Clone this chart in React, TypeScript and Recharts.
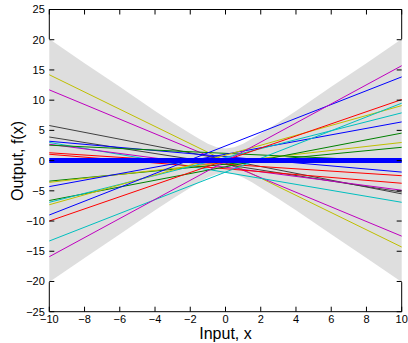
import { Area, ComposedChart, Line, ReferenceLine, XAxis, YAxis } from "recharts";

// x positions where the grey 2-sigma band was read
const bandX = [-10, -8, -6, -4, -3, -2, -1.5, -1, -0.5, 0, 0.5, 1, 1.5, 2, 3, 4, 6, 8, 10];
const bandUpper = [20.1, 16.1, 12.2, 8.2, 6.3, 4.5, 3.6, 2.8, 2.2, 2.0, 2.2, 2.8, 3.6, 4.5, 6.3, 8.2, 12.2, 16.1, 20.1];
const bandLower = [-20.1, -16.1, -12.2, -8.2, -6.3, -4.5, -3.6, -2.8, -2.2, -2.0, -2.2, -2.8, -3.6, -4.5, -6.3, -8.2, -12.2, -16.1, -20.1];

// sample lines: value at x = -10 and at x = 10
const sampleColors = [
  "#bfbf00", "#bf00bf", "#404040", "#404040", "#0000ff",
  "#00bfbf", "#bf00bf", "#008000", "#ff0000", "#ff0000",
  "#008000", "#bfbf00", "#0000ff", "#008000", "#00bfbf",
  "#bfbf00", "#0000ff", "#ff0000", "#00bfbf", "#bf00bf",
];
const sampleStart = [14.2, 11.7, 5.8, 3.9, 3.2, 3.0, 2.7, 2.55, 1.3, 1.05, -3.4, -3.6, -4.3, -6.6, -6.9, -7.3, -9.0, -10.0, -13.3, -15.9];
const sampleEnd = [-14.3, -12.5, -5.5, -5.2, -1.9, -6.9, -4.9, -0.15, -2.5, -3.75, 2.2, 3.0, 6.4, 4.55, 7.9, 9.1, 13.85, 10.1, 9.5, 15.7];

// prior mean
const meanStart = 0;
const meanEnd = 0;

const xTicks = [-10, -8, -6, -4, -2, 0, 2, 4, 6, 8, 10];
const yTicks = [-25, -20, -15, -10, -5, 0, 5, 10, 15, 20, 25];

const data = bandX.map((x, i) => {
  const row: any = { x, band: [bandLower[i], bandUpper[i]] };
  if (x === -10 || x === 10) {
    sampleStart.forEach((v, j) => {
      row[`l${j}`] = x === -10 ? v : sampleEnd[j];
    });
    row.mean = x === -10 ? meanStart : meanEnd;
  }
  return row;
});

const font = "'Liberation Sans', Arial, sans-serif";
const fmt = (v: number) => (v < 0 ? "\u2212" + Math.abs(v) : String(v));
const noLabel = () => <g />;

// side frame edges, only where the grey band does not cover them
const edge = (x: number, y1: number, y2: number) => (
  <ReferenceLine
    xAxisId="b"
    yAxisId="l"
    segment={[{ x, y: y1 }, { x, y: y2 }]}
    stroke="#000"
    strokeWidth={1}
  />
);

export default function App() {
  const bandEdgeL = bandUpper[0];
  const bandEdgeR = bandUpper[bandUpper.length - 1];
  return (
    <div style={{ position: "absolute", left: 0, top: 0, width: 408, height: 343, background: "#fff" }}>
      <ComposedChart
        width={408}
        height={343}
        data={data}
        margin={{ top: 8.5, right: 5.3, bottom: 0, left: 0 }}
      >
        <XAxis
          xAxisId="b"
          dataKey="x"
          type="number"
          domain={[-10, 10]}
          ticks={xTicks}
          tickFormatter={fmt}
          height={31.3}
          tickSize={-5}
          tickMargin={8.5}
          stroke="#000"
          tick={{ fill: "#000", fontSize: 11, fontFamily: font }}
          label={{
            content: () => (
              <text x={225.5} y={339} textAnchor="middle" fontSize={16} fontFamily={font} fill="#000">
                Input, x
              </text>
            ),
          }}
        />
        <XAxis
          xAxisId="t"
          dataKey="x"
          type="number"
          orientation="top"
          domain={[-10, 10]}
          ticks={xTicks}
          height={1}
          tickSize={-5}
          tick={noLabel}
          stroke="#000"
        />
        <YAxis
          yAxisId="l"
          type="number"
          domain={[-25, 25]}
          ticks={yTicks}
          tickFormatter={fmt}
          width={49.3}
          tickSize={-5}
          tickMargin={9.5}
          axisLine={false}
          stroke="#000"
          tick={{ fill: "#000", fontSize: 11, fontFamily: font }}
          label={{
            content: () => (
              <text
                x={17}
                y={161}
                transform="rotate(-90 17 161)"
                textAnchor="middle"
                dominantBaseline="central"
                fontSize={16}
                fontFamily={font}
                fill="#000"
              >
                Output, f(x)
              </text>
            ),
          }}
        />
        <YAxis
          yAxisId="r"
          orientation="right"
          type="number"
          domain={[-25, 25]}
          ticks={yTicks}
          width={1}
          tickSize={-5}
          axisLine={false}
          tick={noLabel}
          stroke="#000"
        />
        <Area
          xAxisId="b"
          yAxisId="l"
          dataKey="band"
          type="linear"
          fill="#dedede"
          fillOpacity={1}
          stroke="none"
          isAnimationActive={false}
        />
        <Line
          xAxisId="t"
          yAxisId="r"
          dataKey="mean"
          stroke="none"
          dot={false}
          connectNulls
          isAnimationActive={false}
        />
        <ReferenceLine xAxisId="b" yAxisId="l" y={25} stroke="#000" strokeWidth={1} />
        {edge(-10, bandEdgeL, 25)}
        {edge(-10, -25, -bandEdgeL)}
        {edge(10, bandEdgeR, 25)}
        {edge(10, -25, -bandEdgeR)}
        {sampleColors.map((c, j) => (
          <Line
            key={j}
            xAxisId="b"
            yAxisId="l"
            dataKey={`l${j}`}
            type="linear"
            stroke={c}
            strokeWidth={1}
            dot={false}
            connectNulls
            isAnimationActive={false}
          />
        ))}
        <Line
          xAxisId="b"
          yAxisId="l"
          dataKey="mean"
          type="linear"
          stroke="#0000ff"
          strokeWidth={5}
          dot={false}
          connectNulls
          isAnimationActive={false}
        />
      </ComposedChart>
    </div>
  );
}
